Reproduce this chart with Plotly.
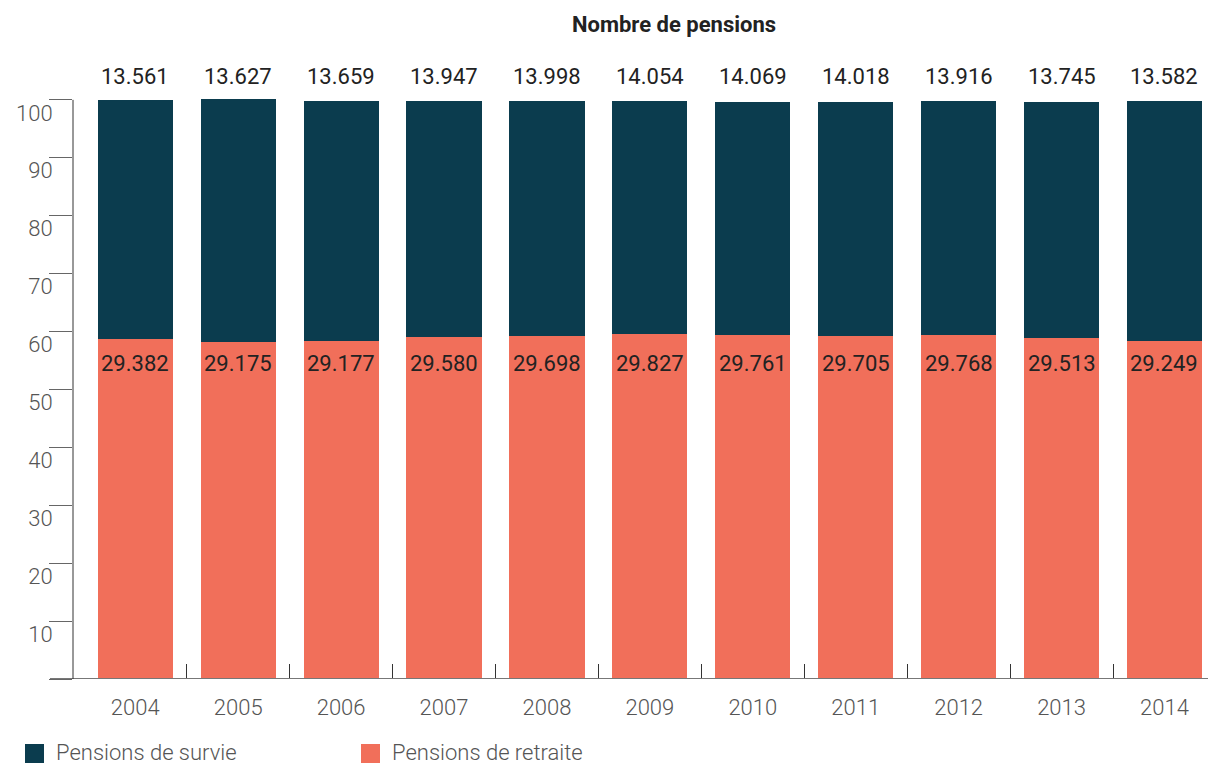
import plotly.graph_objects as go

# Data
years = [2004, 2005, 2006, 2007, 2008, 2009, 2010, 2011, 2012, 2013, 2014]
# share of each pension type in the bar (%)
retraite_pct = [58.7, 58.2, 58.4, 59.1, 59.2, 59.6, 59.4, 59.2, 59.4, 58.9, 58.4]
survie_pct = [41.3, 42.0, 41.4, 40.7, 40.6, 40.2, 40.3, 40.5, 40.4, 40.8, 41.4]
# number of pensions (labels)
retraite_labels = ["29.382", "29.175", "29.177", "29.580", "29.698", "29.827",
                   "29.761", "29.705", "29.768", "29.513", "29.249"]
survie_labels = ["13.561", "13.627", "13.659", "13.947", "13.998", "14.054",
                 "14.069", "14.018", "13.916", "13.745", "13.582"]
y_ticks = [0, 10, 20, 30, 40, 50, 60, 70, 80, 90, 100]

COL_RETRAITE = "#f16f5a"
COL_SURVIE = "#0b3c4e"
FONT = "Roboto"

W, H = 1208, 767
ML, MR, MT, MB = 73, 0, 79, 88
PW, PH = W - ML - MR, H - MT - MB


def px_x(px):
    return (px - ML) / PW


def px_y(py):
    return (H - MB - py) / PH


fig = go.Figure()
fig.add_trace(go.Bar(
    x=years, y=retraite_pct, name="Pensions de retraite",
    marker=dict(color=COL_RETRAITE, line=dict(width=0)), width=0.73,
    showlegend=False, hoverinfo="skip",
))
fig.add_trace(go.Bar(
    x=years, y=survie_pct, name="Pensions de survie",
    marker=dict(color=COL_SURVIE, line=dict(width=0)), width=0.73,
    showlegend=False, hoverinfo="skip",
))

# value labels: one row above the bars, one row inside the orange segments
annotations = []
for yr, rl, sl in zip(years, retraite_labels, survie_labels):
    annotations.append(dict(
        x=yr, y=px_y(76), xref="x", yref="paper", text=sl, showarrow=False,
        yanchor="middle", xanchor="center",
        font=dict(family=FONT, size=22, color="#222222"),
    ))
    annotations.append(dict(
        x=yr, y=px_y(363), xref="x", yref="paper", text=rl, showarrow=False,
        yanchor="middle", xanchor="center",
        font=dict(family=FONT, size=22, color="#222222"),
    ))

# title
annotations.append(dict(
    x=px_x(674), y=px_y(25), xref="paper", yref="paper",
    text="<b>Nombre de pensions</b>", showarrow=False,
    xanchor="center", yanchor="middle",
    font=dict(family=FONT, size=22, color="#222222", weight=500),
))

# legend
legend_items = [("Pensions de survie", COL_SURVIE, 25), ("Pensions de retraite", COL_RETRAITE, 361)]
shapes = []
for name, col, x0 in legend_items:
    shapes.append(dict(
        type="rect", xref="paper", yref="paper",
        x0=px_x(x0), x1=px_x(x0 + 19), y0=px_y(744), y1=px_y(763),
        fillcolor=col, line=dict(width=0),
    ))
    annotations.append(dict(
        x=px_x(x0 + 29), y=px_y(752), xref="paper", yref="paper",
        text=name, showarrow=False, xanchor="left", yanchor="middle",
        font=dict(family=FONT, size=22, color="#555555", weight=300),
    ))

# baseline and vertical axis line
shapes.append(dict(
    type="line", xref="paper", yref="y",
    x0=px_x(50), x1=1, y0=0, y1=0,
    line=dict(color="#777777", width=2), layer="above",
))
shapes.append(dict(
    type="line", xref="paper", yref="y",
    x0=0, x1=0, y0=0, y1=100,
    line=dict(color="#333333", width=1), layer="above",
))

fig.update_layout(
    width=W, height=H,
    margin=dict(l=ML, r=MR, t=MT, b=MB),
    paper_bgcolor="white", plot_bgcolor="white",
    barmode="stack",
    showlegend=False,
    annotations=annotations,
    shapes=shapes,
    font=dict(family=FONT),
)

fig.update_xaxes(
    range=[2003.395, 2014.423],
    tickvals=years, ticktext=[str(y) for y in years],
    ticks="", showgrid=False, zeroline=False, showline=False,
    tickfont=dict(family=FONT, size=22, color="#555555", weight=300),
    ticklabelstandoff=13,
    minor=dict(tickvals=[y + 0.5 for y in years[:-1]], ticks="inside",
               ticklen=15, tickcolor="#333333", tickwidth=1, showgrid=False),
)
fig.update_yaxes(
    range=[0, 103.6],
    tickvals=y_ticks, ticktext=["" if v == 0 else str(v) for v in y_ticks],
    ticks="outside", ticklen=23, tickcolor="#666666", tickwidth=1,
    showgrid=False, zeroline=False, showline=False,
    tickfont=dict(family=FONT, size=22, color="#555555", weight=300),
    ticklabelshift=13, ticklabelstandoff=-8,
)

fig.write_html("out.html")
